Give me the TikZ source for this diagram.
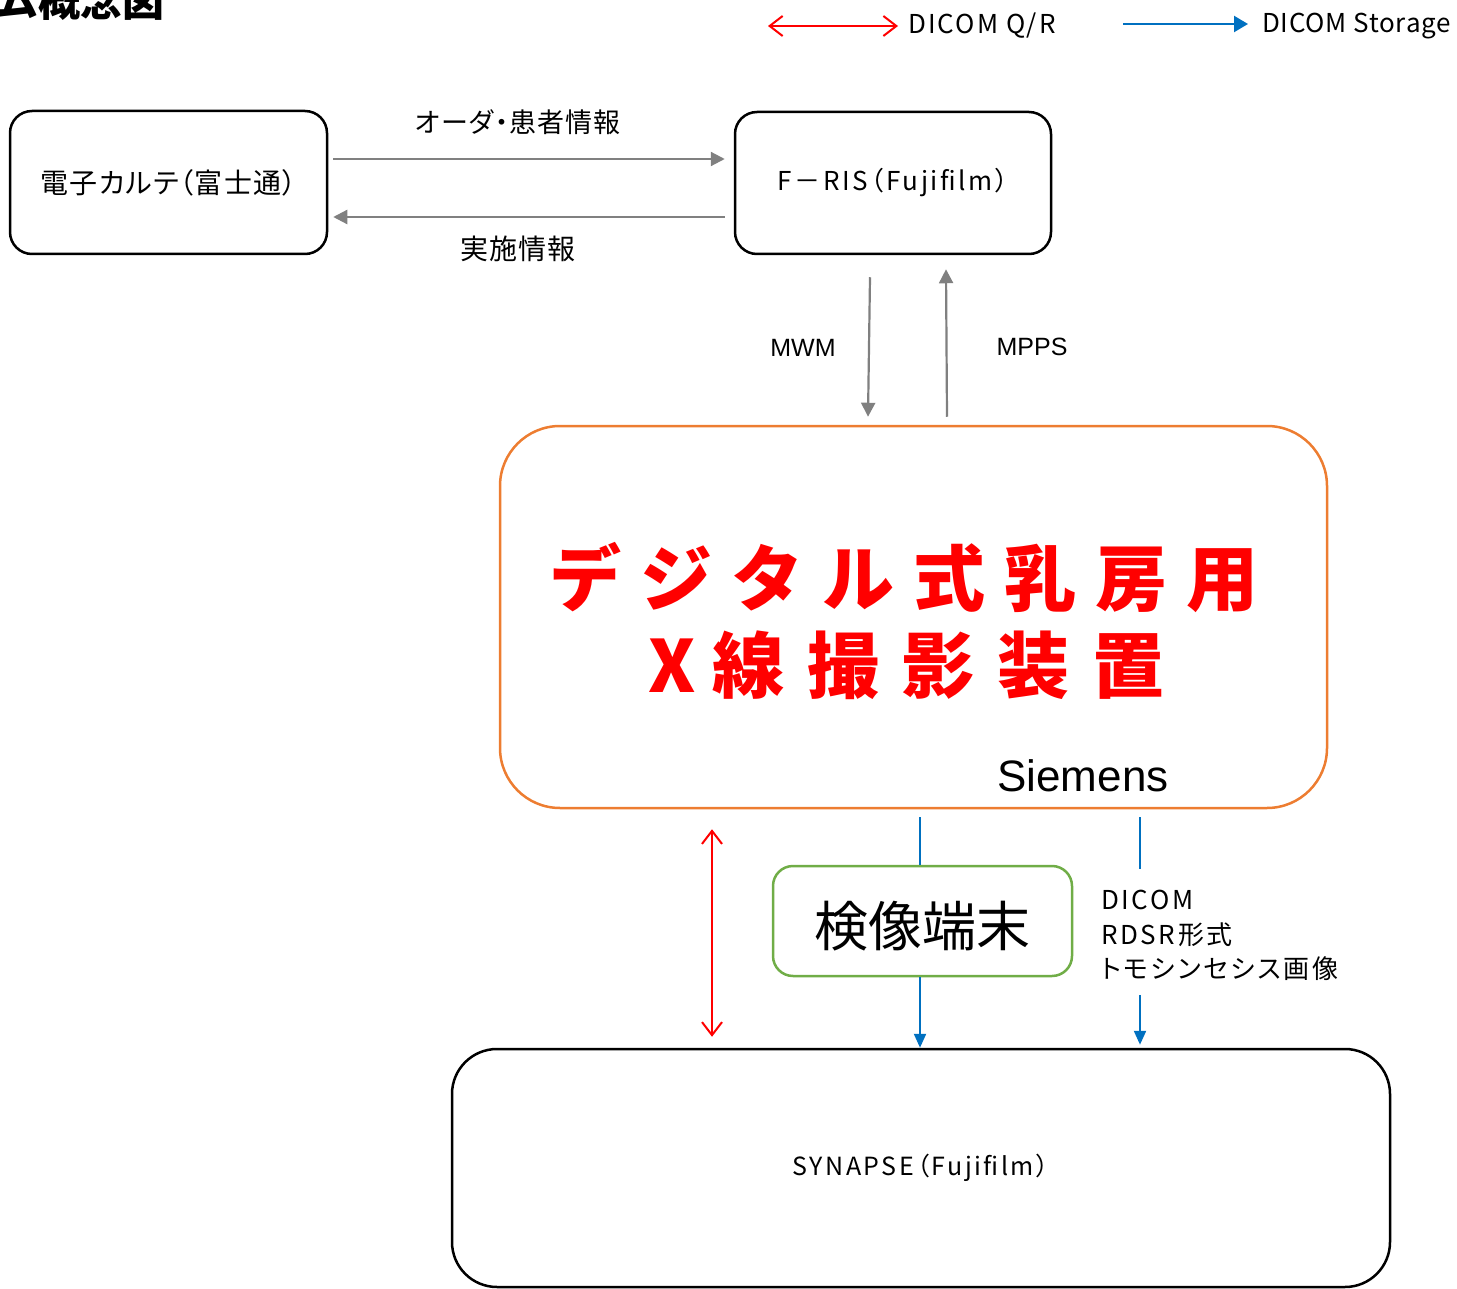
\documentclass[tikz,border=0pt]{standalone}
\usepackage{fontspec}
\setmainfont{Noto Sans CJK JP}
\newfontfamily\jp{Noto Sans CJK JP}[RawFeature=+palt]
\newfontfamily\arialfont{Liberation Sans}
\usetikzlibrary{arrows.meta}
\definecolor{grayline}{HTML}{808080}
\definecolor{orangeline}{HTML}{ED7D31}
\definecolor{greenline}{HTML}{70AD47}
\definecolor{blueline}{HTML}{0070C0}
\definecolor{redline}{HTML}{FF0000}
\tikzset{
  boxnode/.style={draw=black, line width=2.5pt, rounded corners=22pt, inner sep=0pt},
  grayarrow/.style={draw=grayline, line width=2.2pt, -{Triangle[length=14pt,width=14pt]}},
  bluearrow/.style={draw=blueline, line width=2.2pt, -{Triangle[length=14pt,width=12pt]}},
  blueplain/.style={draw=blueline, line width=2.2pt},
  redarrow/.style={draw=redline, line width=2pt, {Straight Barb[length=13pt,width=20pt]}-{Straight Barb[length=13pt,width=20pt]}},
  lbl/.style={inner sep=0pt, font=\fontsize{26pt}{30pt}\selectfont\jp},
}
\begin{document}
\begin{tikzpicture}[x=1pt,y=-1pt]
\useasboundingbox (0,0) rectangle (1457,1289);
% title (cut off at top)
\node[inner sep=0pt, anchor=base west, font=\fontsize{42pt}{46pt}\selectfont\bfseries] (title) at (-4,17) {ム概念図};
% legend
\coordinate (lq1) at (768,26);
\coordinate (lq2) at (898,26);
\node[lbl, anchor=west, font=\fontsize{26pt}{30pt}\selectfont\jp\addfontfeatures{LetterSpace=8}] (lqt) at (908,26) {DICOM Q/R};
\draw[redarrow] (lq1) -- (lq2);
\coordinate (ls1) at (1123,24);
\coordinate (ls2) at (1248,24);
\node[lbl, anchor=west, font=\fontsize{26pt}{30pt}\selectfont\jp\addfontfeatures{LetterSpace=3}] (lst) at (1262,26) {DICOM Storage};
\draw[draw=blueline, line width=2.2pt, -{Triangle[length=14pt,width=16pt]}] (ls1) -- (ls2);
% boxes
\node[boxnode, minimum width=317pt, minimum height=143pt, font=\fontsize{28pt}{30pt}\selectfont\jp\addfontfeatures{LetterSpace=4}] (b1) at (168.5,182.5) {電子カルテ（富士通）};
\node[boxnode, minimum width=316pt, minimum height=142pt, font=\fontsize{26pt}{30pt}\selectfont\jp\addfontfeatures{LetterSpace=10}] (b2) at (893,183) {F－RIS（Fujifilm）};
\node[draw=orangeline, line width=2.5pt, rounded corners=60pt, minimum width=827pt, minimum height=382pt, inner sep=0pt] (mx) at (913.5,617) {};
\node[draw=greenline, line width=2.5pt, rounded corners=20pt, minimum width=299pt, minimum height=110pt, inner sep=0pt, font=\fontsize{54pt}{60pt}\selectfont] (kz) at (922.5,921) {\raisebox{-5pt}[\height][\depth]{検像端末}};
\node[boxnode, rounded corners=45pt, minimum width=938pt, minimum height=238pt, font=\fontsize{25pt}{30pt}\selectfont\jp\addfontfeatures{LetterSpace=10}] (syn) at (921,1168) {SYNAPSE（Fujifilm）};
% big red text
\node[inner sep=0pt, text=redline, font=\fontsize{72pt}{80pt}\selectfont\bfseries] (t1) at (904,578)
  {デ\kern19pt ジ\kern19pt タ\kern19pt ル\kern19pt 式\kern19pt 乳\kern19pt 房\kern19pt 用};
\node[inner sep=0pt, text=redline, font=\fontsize{72pt}{80pt}\selectfont\bfseries] (t2) at (906.5,665)
  {X\kern16pt 線\kern23pt 撮\kern23pt 影\kern23pt 装\kern23pt 置};
\node[inner sep=0pt, font=\fontsize{44pt}{50pt}\selectfont\arialfont] (sie) at (1083,776) {Siemens};
% top arrows
\draw[grayarrow] ([xshift=5pt,yshift=23.5pt]b1.east) -- ([xshift=-9pt,yshift=24pt]b2.west);
\draw[grayarrow] ([xshift=-9pt,yshift=-34pt]b2.west) -- ([xshift=5pt,yshift=-34.5pt]b1.east);
\node[lbl, font=\fontsize{27pt}{30pt}\selectfont\jp\addfontfeatures{LetterSpace=4}] (ord) at (518,122) {オーダ・患者情報};
\node[lbl, font=\fontsize{28pt}{30pt}\selectfont\jp\addfontfeatures{LetterSpace=3}] (jis) at (518,249) {実施情報};
% MWM / MPPS
\draw[grayarrow] ([xshift=-23pt,yshift=-22pt]b2.south) -- ([xshift=-45.5pt,yshift=8pt]mx.north);
\draw[grayarrow] ([xshift=33.5pt,yshift=8pt]mx.north) -- ([xshift=53pt,yshift=-14pt]b2.south);
\node[lbl, font=\fontsize{25pt}{30pt}\selectfont\arialfont] (mwm) at (803,348) {MWM};
\node[lbl, font=\fontsize{25pt}{30pt}\selectfont\arialfont] (mpps) at (1032,347) {MPPS};
% blue storage lines
\draw[blueplain] ([xshift=6.5pt,yshift=-8pt]mx.south) -- ([xshift=-2.5pt]kz.north);
\draw[bluearrow] ([xshift=-2.5pt]kz.south) -- ([xshift=-1pt]syn.north);
\draw[blueplain] ([xshift=226.5pt,yshift=-8pt]mx.south) -- ([xshift=226.5pt,yshift=-60pt]mx.south);
\draw[bluearrow] ([xshift=219pt,yshift=53pt]syn.north) -- ([xshift=219pt,yshift=3pt]syn.north);
\node[lbl, anchor=north west, align=left, font=\fontsize{26pt}{34.5pt}\selectfont\jp\addfontfeatures{LetterSpace=10}] (dic) at (1101,890) {DICOM\\RDSR形式\\トモシンセシス画像};
% red Q/R arrow
\draw[redarrow] ([xshift=-201.5pt,yshift=-20pt]mx.south) -- ([xshift=-209pt,yshift=11pt]syn.north);
\end{tikzpicture}
\end{document}
